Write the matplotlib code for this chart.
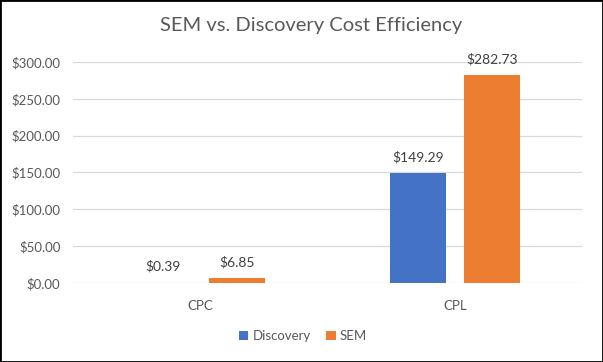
import matplotlib.pyplot as plt
import numpy as np
from matplotlib.patches import Rectangle
from matplotlib.ticker import FuncFormatter

categories = ["CPC", "CPL"]
discovery = [0.39, 149.29]
sem = [6.85, 282.73]
series_names = ["Discovery", "SEM"]
colors = ["#4472C4", "#ED7D31"]

plt.rcParams["font.family"] = ["Lato", "DejaVu Sans"]

fig = plt.figure(figsize=(6.03, 3.62), dpi=100)
ax = fig.add_axes([73 / 603, 1 - 283 / 362, 509 / 603, 221 / 362])

x = np.arange(len(categories))
w = 0.22
off = 0.145
bars_d = ax.bar(x - off, discovery, w, color=colors[0], label=series_names[0])
bars_s = ax.bar(x + off, sem, w, color=colors[1], label=series_names[1])

for bars, vals in [(bars_d, discovery), (bars_s, sem)]:
    for bar, val in zip(bars, vals):
        ax.annotate(f"${val:,.2f}", (bar.get_x() + bar.get_width() / 2, val),
                    xytext=(0, 7), textcoords="offset points",
                    ha="center", va="bottom", fontsize=10, color="#404040",
                    annotation_clip=False)

ax.set_xlim(-0.5, 1.5)
ax.set_ylim(0, 300)
ax.set_yticks(np.arange(0, 301, 50))
ax.yaxis.set_major_formatter(FuncFormatter(lambda v, p: f"${v:,.2f}"))
ax.set_xticks(x)
ax.set_xticklabels(categories)
ax.tick_params(axis="both", length=0, labelsize=9.5, colors="#595959")
ax.tick_params(axis="x", pad=12)
ax.tick_params(axis="y", pad=9)
ax.grid(axis="y", color="#D9D9D9", lw=0.9)
ax.set_axisbelow(True)
for s in ax.spines.values():
    s.set_visible(False)

fig.text(311 / 603, 1 - 25 / 362, "SEM vs. Discovery Cost Efficiency",
         ha="center", va="center", fontsize=14.5, color="#595959")

fig.legend(handles=[bars_d, bars_s], labels=series_names, loc="center",
           bbox_to_anchor=(303 / 603, 1 - 336 / 362), ncol=2, frameon=False,
           fontsize=9.5, labelcolor="#595959", handlelength=0.7, handleheight=0.7,
           handletextpad=0.3, columnspacing=1.2)

fig.patches.append(Rectangle((0, 0), 1, 1, transform=fig.transFigure,
                             fill=False, edgecolor="black", lw=2))

fig.savefig("out.png", dpi=100)
